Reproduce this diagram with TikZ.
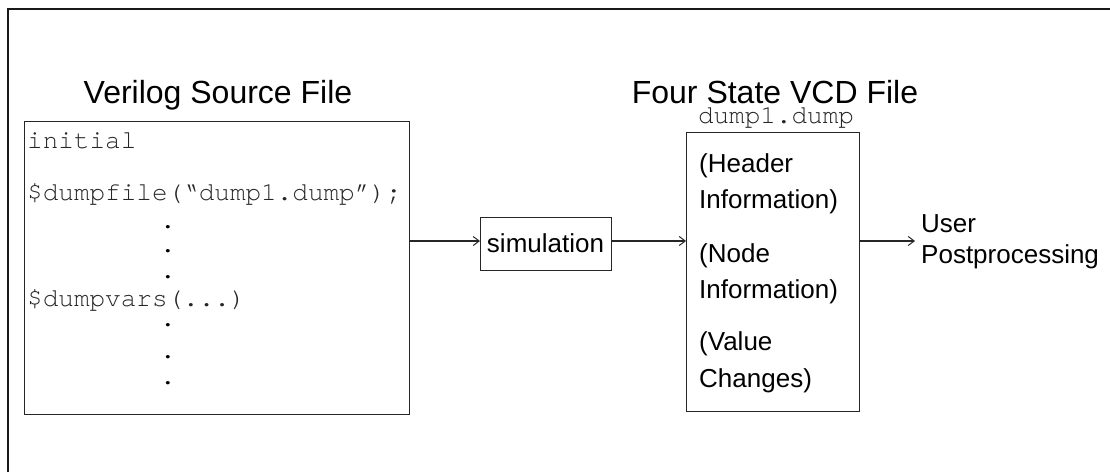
\documentclass[tikz,border=0pt]{standalone}
\usepackage{fontspec}
\setmainfont{Liberation Sans}
\setmonofont[Ligatures={NoCommon,NoRequired}]{TeX Gyre Cursor}
\usetikzlibrary{arrows.meta}
\begin{document}
\begin{tikzpicture}[x=1pt,y=-1pt,
  box/.style={draw=black!85, line width=1.2pt, anchor=north west, inner sep=0pt},
  title/.style={font=\fontsize{32}{38}\selectfont, anchor=base, inner sep=0pt},
  code/.style={font=\fontsize{26}{30}\ttfamily, anchor=base west, inner sep=0pt, text=black!85},
  dotc/.style={font=\fontsize{26}{30}\ttfamily, anchor=base, inner sep=0pt},
  body/.style={font=\fontsize{26}{30}\selectfont, anchor=base west, inner sep=0pt},
  arr/.style={line width=1.2pt, draw=black!85, -{Straight Barb[length=6pt,width=9pt,line width=1pt]}}]
\useasboundingbox (0,0) rectangle (1110,472);
% outer frame
\draw[line width=1.5pt, black!90] (8,472) -- (8,9) -- (1110,9);
% titles
\node[title] (srctitle) at (218,103) {Verilog Source File};
\node[title] (vcdtitle) at (775,103) {Four State VCD File};
% source box
\node[box, minimum width=385pt, minimum height=293pt] (src) at (24,121) {};
\node[code] (l1) at (27,148) {initial};
\node[code] (l2) at (27,200) {\$dumpf{}ile(“dump1.dump”);};
\node[dotc] (d1) at (168,228) {.};
\node[dotc] (d2) at (168,252) {.};
\node[dotc] (d3) at (168,278) {.};
\node[code] (l3) at (27,306) {\$dumpvars(...)};
\node[dotc] (d4) at (168,326) {.};
\node[dotc] (d5) at (168,358) {.};
\node[dotc] (d6) at (168,384) {.};
% simulation box
\node[box, minimum width=131pt, minimum height=53pt] (sim) at (480,217) {};
\node[body, anchor=base] (simtext) at (545.5,252) {simulation};
% VCD box
\node[dotc, text=black!85] (fname) at (776,123) {dump1.dump};
\node[box, minimum width=173pt, minimum height=279pt] (vcd) at (686,132) {};
\node[body] (h1) at (699,172) {(Header};
\node[body] (h2) at (699,208) {Information)};
\node[body] (n1) at (699,262) {(Node};
\node[body] (n2) at (699,298) {Information)};
\node[body] (v1) at (699,350) {(Value};
\node[body] (v2) at (699,387) {Changes)};
% user postprocessing
\node[body] (u1) at (921,232) {User};
\node[body] (u2) at (921,263) {Postprocessing};
\coordinate (ay) at (0,241);
% connectors
\draw[arr] (src.east |- ay) -- (sim.west |- ay);
\draw[arr] (sim.east |- ay) -- (vcd.west |- ay);
\draw[arr] (vcd.east |- ay) -- ([xshift=-6pt]u1.west |- ay);
\end{tikzpicture}
\end{document}
